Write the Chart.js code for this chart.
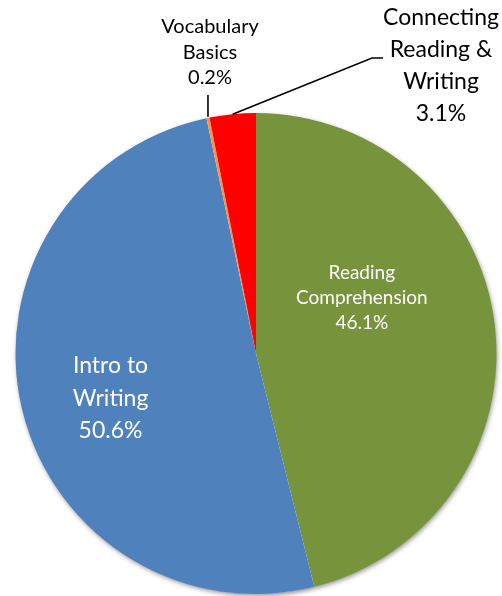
<!DOCTYPE html>
<html>
<head>
<meta charset="utf-8">
<script src="https://cdn.jsdelivr.net/npm/chart.js@4"></script>
<style>
  html, body { margin: 0; padding: 0; background: #fff; }
  #wrap { width: 502px; height: 596px; position: relative; }
</style>
</head>
<body>
<div id="wrap"><canvas id="pieChart"></canvas></div>
<script>
// data
const categories = ['Reading Comprehension', 'Intro to Writing', 'Vocabulary Basics', 'Connecting Reading & Writing'];
const shares = [46.1, 50.6, 0.2, 3.1];
const sliceColors = ['#77933C', '#4F81BD', '#F79646', '#FF0000'];

// label lines for each slice (last line is the percent)
const labelLines = [
    ['Reading', 'Comprehension'],
    ['Intro to', 'Writing'],
    ['Vocabulary', 'Basics'],
    ['Connecting', 'Reading &', 'Writing']
];

// shadow under the whole pie, like the Excel original
const pieShadow = {
    id: 'pieShadow',
    beforeDatasetsDraw(chart) {
        const arc = chart.getDatasetMeta(0).data[0];
        const ctx = chart.ctx;
        ctx.save();
        ctx.shadowColor = 'rgba(0,0,0,0.45)';
        ctx.shadowBlur = 5;
        ctx.shadowOffsetX = 1;
        ctx.shadowOffsetY = 2;
        ctx.fillStyle = '#fff';
        ctx.beginPath();
        ctx.arc(arc.x, arc.y, arc.outerRadius - 0.5, 0, Math.PI * 2);
        ctx.fill();
        ctx.restore();
    }
};

// data labels: inside ones in white, outside ones in black with leader lines
const sliceLabels = {
    id: 'sliceLabels',
    afterDatasetsDraw(chart) {
        const ctx = chart.ctx;
        const arcs = chart.getDatasetMeta(0).data;
        const cx = arcs[0].x, r = arcs[0].outerRadius;

        // where each text block is centred
        const spots = [
            { x: cx + 0.44 * r, y: 273, size: 19, gap: 25, color: '#fff' },
            { x: cx - 0.605 * r, y: 366, size: 23, gap: 32.5, color: '#fff' },
            { x: 210, y: 27, size: 20, gap: 25.5, color: '#000' },
            { x: 441, y: 18, size: 23, gap: 32, color: '#000' }
        ];

        ctx.save();
        ctx.textAlign = 'center';
        ctx.textBaseline = 'middle';
        spots.forEach((s, i) => {
            ctx.font = s.size + 'px Lato, "Open Sans", sans-serif';
            ctx.fillStyle = s.color;
            const lines = labelLines[i].concat([shares[i].toFixed(1) + '%']);
            lines.forEach((t, k) => ctx.fillText(t, s.x, s.y + k * s.gap));
        });

        // leader lines from the slice edges to the outside labels
        ctx.strokeStyle = '#000';
        ctx.lineWidth = 1.6;
        const edge = (a) => {
            const mid = (a.startAngle + a.endAngle) / 2;
            return [a.x + Math.cos(mid) * a.outerRadius, a.y + Math.sin(mid) * a.outerRadius];
        };
        const vb = edge(arcs[2]);
        ctx.beginPath();
        ctx.moveTo(vb[0], vb[1] - 1);
        ctx.lineTo(vb[0], 95);
        ctx.stroke();

        const cr = edge(arcs[3]);
        ctx.beginPath();
        ctx.moveTo(cr[0], cr[1]);
        ctx.lineTo(372, 58);
        ctx.lineTo(383, 58);
        ctx.stroke();
        ctx.restore();
    }
};

new Chart(document.getElementById('pieChart'), {
    type: 'pie',
    data: {
        labels: categories,
        datasets: [{
            data: shares,
            backgroundColor: sliceColors,
            borderWidth: 0
        }]
    },
    options: {
        responsive: true,
        maintainAspectRatio: false,
        animation: false,
        layout: { padding: { left: 15, right: 5, top: 113, bottom: 2 } },
        plugins: {
            legend: { display: false },
            tooltip: { enabled: false }
        }
    },
    plugins: [pieShadow, sliceLabels]
});
</script>
</body>
</html>
